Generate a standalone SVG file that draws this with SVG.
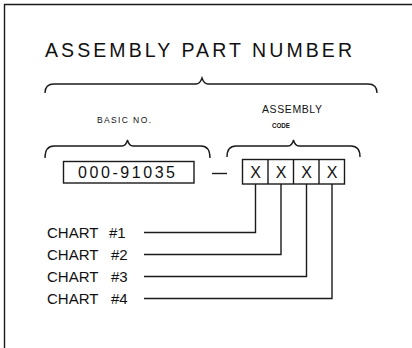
<svg xmlns="http://www.w3.org/2000/svg" width="412" height="348" viewBox="0 0 412 348">
<style>
.ln{fill:none;stroke:#1a1a1a;stroke-width:1.4;stroke-linecap:butt;stroke-linejoin:miter}
.t{font-family:"Liberation Sans",Arial,sans-serif;fill:#111}
.box{fill:#fff;stroke:#1a1a1a;stroke-width:1.4}
</style>
<rect width="412" height="348" fill="#fff"/>
<g id="frame">
<path class="ln" d="M4.5,348 V4.5 H412"/>
</g>
<g id="title">
<text class="t" x="45" y="57" font-size="19.5" textLength="307" lengthAdjust="spacing">ASSEMBLY PART NUMBER</text>
<path class="ln" d="M45,93 Q45,84 54,84 H196 Q200,84 202,78 Q204,84 208,84 H368 Q377,84 377,93"/>
</g>
<g id="basic-no">
<text class="t" x="97" y="123" font-size="8.5" textLength="54" lengthAdjust="spacing">BASIC NO.</text>
<path class="ln" d="M45,158 Q45,146 54,146 H122 Q126,146 127.5,140 Q129,146 133,146 H201 Q210,146 210,158"/>
<rect class="box" x="63.5" y="161.5" width="130.5" height="21.5"/>
<text class="t" x="78" y="177.5" font-size="16" textLength="97" lengthAdjust="spacing">000-91035</text>
</g>
<g id="dash">
<path class="ln" d="M212,173.5 H227"/>
</g>
<g id="assembly-code">
<text class="t" x="262" y="113" font-size="10.5" textLength="60" lengthAdjust="spacing">ASSEMBLY</text>
<text class="t" x="272" y="127.5" font-size="7.5" font-weight="bold" textLength="18" lengthAdjust="spacingAndGlyphs">CODE</text>
<path class="ln" d="M227,157 Q227,146 236,146 H288 Q292,146 293.5,140 Q295,146 299,146 H351 Q360,146 360,157"/>
<rect class="box" x="242.5" y="159.5" width="102" height="24.5"/>
<path class="ln" d="M268,159.5 V184 M293.5,159.5 V184 M319,159.5 V184"/>
<g font-size="16" text-anchor="middle" class="t">
<text class="t" x="255.5" y="178">X</text>
<text class="t" x="281" y="178">X</text>
<text class="t" x="306.5" y="178">X</text>
<text class="t" x="332" y="178">X</text>
</g>
</g>
<g id="chart1"><text class="t" y="238" font-size="15"><tspan x="47">CHART</tspan><tspan x="109">#1</tspan></text></g>
<g id="chart2"><text class="t" y="260" font-size="15"><tspan x="47">CHART</tspan><tspan x="111">#2</tspan></text></g>
<g id="chart3"><text class="t" y="282" font-size="15"><tspan x="47">CHART</tspan><tspan x="111">#3</tspan></text></g>
<g id="chart4"><text class="t" y="304" font-size="15"><tspan x="47">CHART</tspan><tspan x="111">#4</tspan></text></g>
<g id="connectors">
<path class="ln" d="M255.5,184 V232.5 H144"/>
<path class="ln" d="M281,184 V254.5 H144"/>
<path class="ln" d="M306.5,184 V276.5 H144"/>
<path class="ln" d="M332,184 V298.5 H144"/>
</g>
</svg>
